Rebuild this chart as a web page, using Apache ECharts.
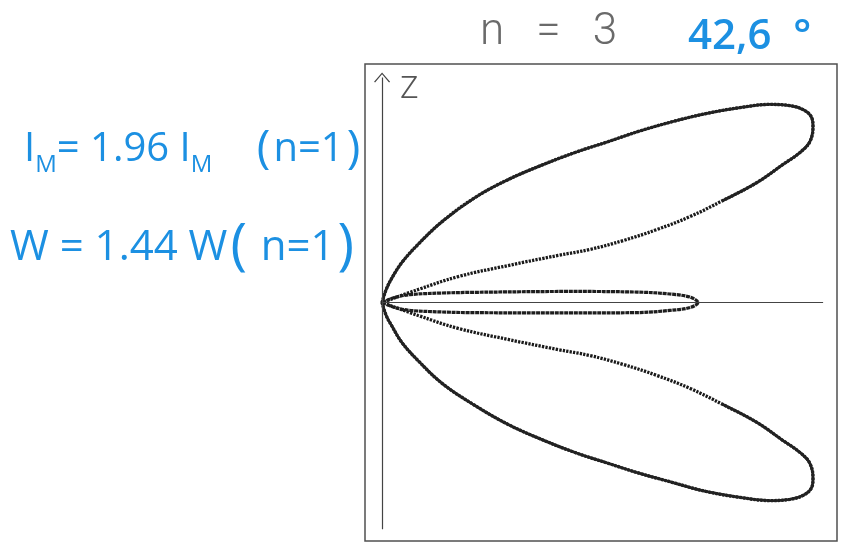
<!DOCTYPE html>
<html>
<head>
<meta charset="utf-8">
<title>n = 3</title>
<script src="https://cdn.jsdelivr.net/npm/echarts@6/dist/echarts.min.js"></script>
<style>
  html, body { margin: 0; padding: 0; background: #ffffff; }
  #chart { width: 854px; height: 544px; }
</style>
</head>
<body>
<div id="chart"></div>
<script>
// Radiation pattern, n = 3. Points are [x, z], with the broadside lobe length as unit.

// Upper main lobe, closed: outer edge from the origin to the tip, then inner edge back
const upperLobe = [
  [0, 0], [0.013, 0.041], [0.032, 0.079], [0.063, 0.127], [0.114, 0.184],
  [0.190, 0.256], [0.294, 0.332], [0.399, 0.389], [0.506, 0.435], [0.611, 0.475],
  [0.715, 0.509], [0.816, 0.543], [0.921, 0.573], [1.025, 0.598], [1.133, 0.617],
  [1.228, 0.627], [1.291, 0.623], [1.332, 0.611], [1.358, 0.589], [1.364, 0.557],
  [1.354, 0.509], [1.323, 0.475], [1.269, 0.437], [1.187, 0.380], [1.079, 0.323],
  [0.975, 0.272], [0.870, 0.231], [0.763, 0.196], [0.658, 0.168], [0.557, 0.149],
  [0.399, 0.117], [0.241, 0.082], [0.114, 0.041], [0, 0]
];

// Lower main lobe, closed
const lowerLobe = [
  [0, 0], [0.013, -0.041], [0.032, -0.076], [0.063, -0.127], [0.114, -0.184],
  [0.190, -0.256], [0.294, -0.326], [0.399, -0.386], [0.506, -0.434], [0.611, -0.475],
  [0.715, -0.509], [0.816, -0.541], [0.921, -0.570], [1.025, -0.598], [1.133, -0.617],
  [1.228, -0.627], [1.291, -0.623], [1.332, -0.611], [1.358, -0.589], [1.364, -0.557],
  [1.354, -0.509], [1.323, -0.475], [1.269, -0.437], [1.187, -0.380], [1.079, -0.323],
  [0.975, -0.272], [0.870, -0.231], [0.763, -0.196], [0.658, -0.168], [0.557, -0.149],
  [0.399, -0.117], [0.241, -0.082], [0.114, -0.041], [0, 0]
];

// Number of leading points of each main lobe drawn as a continuous stroke
// (outer edge and tip); the rest of the inner edge is plotted sparsely.
const solidPointCount = 25;

// Broadside (centre) lobe, closed
const centreLobe = [
  [0, 0], [0.041, 0.016], [0.089, 0.025], [0.190, 0.030], [0.278, 0.032],
  [0.595, 0.035], [0.807, 0.033], [0.911, 0.027], [0.975, 0.017], [1.0, 0.0],
  [0.975, -0.016], [0.911, -0.025], [0.807, -0.032], [0.595, -0.033], [0.278, -0.032],
  [0.190, -0.030], [0.089, -0.025], [0.041, -0.016], [0, 0]
];

// Axes: Z axis (vertical) and broadside direction (horizontal)
const zAxisEnds = [[0, -0.718], [0, 0.712]];
const broadsideAxisEnds = [[0, 0], [1.396, 0]];

const curveColor = '#222222';
const inkBlue = '#1c90e2';
const handFont = '"Open Sans", "DejaVu Sans", sans-serif';

const chevron = 'path://M0,10 L8,0 L16,10 L15,10.8 L8,1.8 L1,10.8 Z';

function dottedLobe(data) {
  return {
    type: 'line', data: data, showSymbol: false, smooth: 0.4, silent: true,
    lineStyle: { color: '#1a1a1a', width: 3.3, type: [2.3, 1.2] },
    z: 3
  };
}
function solidLobe(data) {
  return {
    type: 'line', data: data.slice(0, solidPointCount), showSymbol: false, smooth: 0.4, silent: true,
    lineStyle: { color: curveColor, width: 2.8, type: 'solid', cap: 'round' },
    z: 4
  };
}

const chart = echarts.init(document.getElementById('chart'), null, { renderer: 'canvas' });

chart.setOption({
  animation: false,
  backgroundColor: '#ffffff',
  grid: {
    left: 365, top: 64, width: 472, height: 477,
    show: true, borderColor: '#505050', borderWidth: 1.5, backgroundColor: 'transparent'
  },
  xAxis: { type: 'value', min: -0.054, max: 1.44, show: false },
  yAxis: { type: 'value', min: -0.755, max: 0.755, show: false },
  graphic: [
    {
      type: 'text', left: 480, top: 11,
      style: { text: 'n   =   3', font: '300 44px Roboto, "Open Sans", sans-serif', fill: '#6a6a6a' }
    },
    {
      type: 'text', left: 688, top: 16,
      style: { text: '42,6  °', font: '600 42px ' + handFont, fill: inkBlue }
    },
    {
      type: 'text', left: 400, top: 75,
      style: { text: 'Z', font: '300 31px Roboto, "Open Sans", sans-serif', fill: '#555555' }
    },
    {
      type: 'text', left: 24, top: 127,
      style: {
        text: '{b|I}{s|M}{b|= 1.96 }{b|I}{s|M}{b|    }{p|(}{b|n=1}{p|)}',
        rich: {
          b: { fontSize: 40, fontFamily: handFont, fill: inkBlue },
          s: { fontSize: 24, fontFamily: handFont, fill: inkBlue, padding: [30, 0, 0, 0] },
          p: { fontSize: 46, fontFamily: handFont, fill: inkBlue, padding: [0, 3, 0, 3] }
        }
      }
    },
    {
      type: 'text', left: 10, top: 220,
      style: {
        text: '{b|W = 1.44 W}{p|(}{b| n=1}{p|)}',
        rich: {
          b: { fontSize: 42, fontFamily: handFont, fill: inkBlue },
          p: { fontSize: 56, fontFamily: handFont, fill: inkBlue, padding: [0, 3, 0, 3] }
        }
      }
    }
  ],
  series: [
    {
      type: 'line',
      data: [],
      silent: true,
      markLine: {
        silent: true,
        animation: false,
        symbol: ['none', 'none'],
        label: { show: false },
        lineStyle: { color: '#444444', width: 1.2, type: 'solid' },
        data: [
          [
            { coord: zAxisEnds[0] },
            { coord: zAxisEnds[1], symbol: chevron, symbolSize: [16, 10] }
          ],
          [
            { coord: broadsideAxisEnds[0] },
            { coord: broadsideAxisEnds[1] }
          ]
        ]
      }
    },
    dottedLobe(upperLobe),
    solidLobe(upperLobe),
    dottedLobe(lowerLobe),
    solidLobe(lowerLobe),
    {
      type: 'line',
      data: centreLobe,
      showSymbol: false,
      smooth: 0.35,
      silent: true,
      lineStyle: { color: '#1e1e1e', width: 3.2, type: [4, 0.7] },
      z: 3
    }
  ]
});
</script>
</body>
</html>
